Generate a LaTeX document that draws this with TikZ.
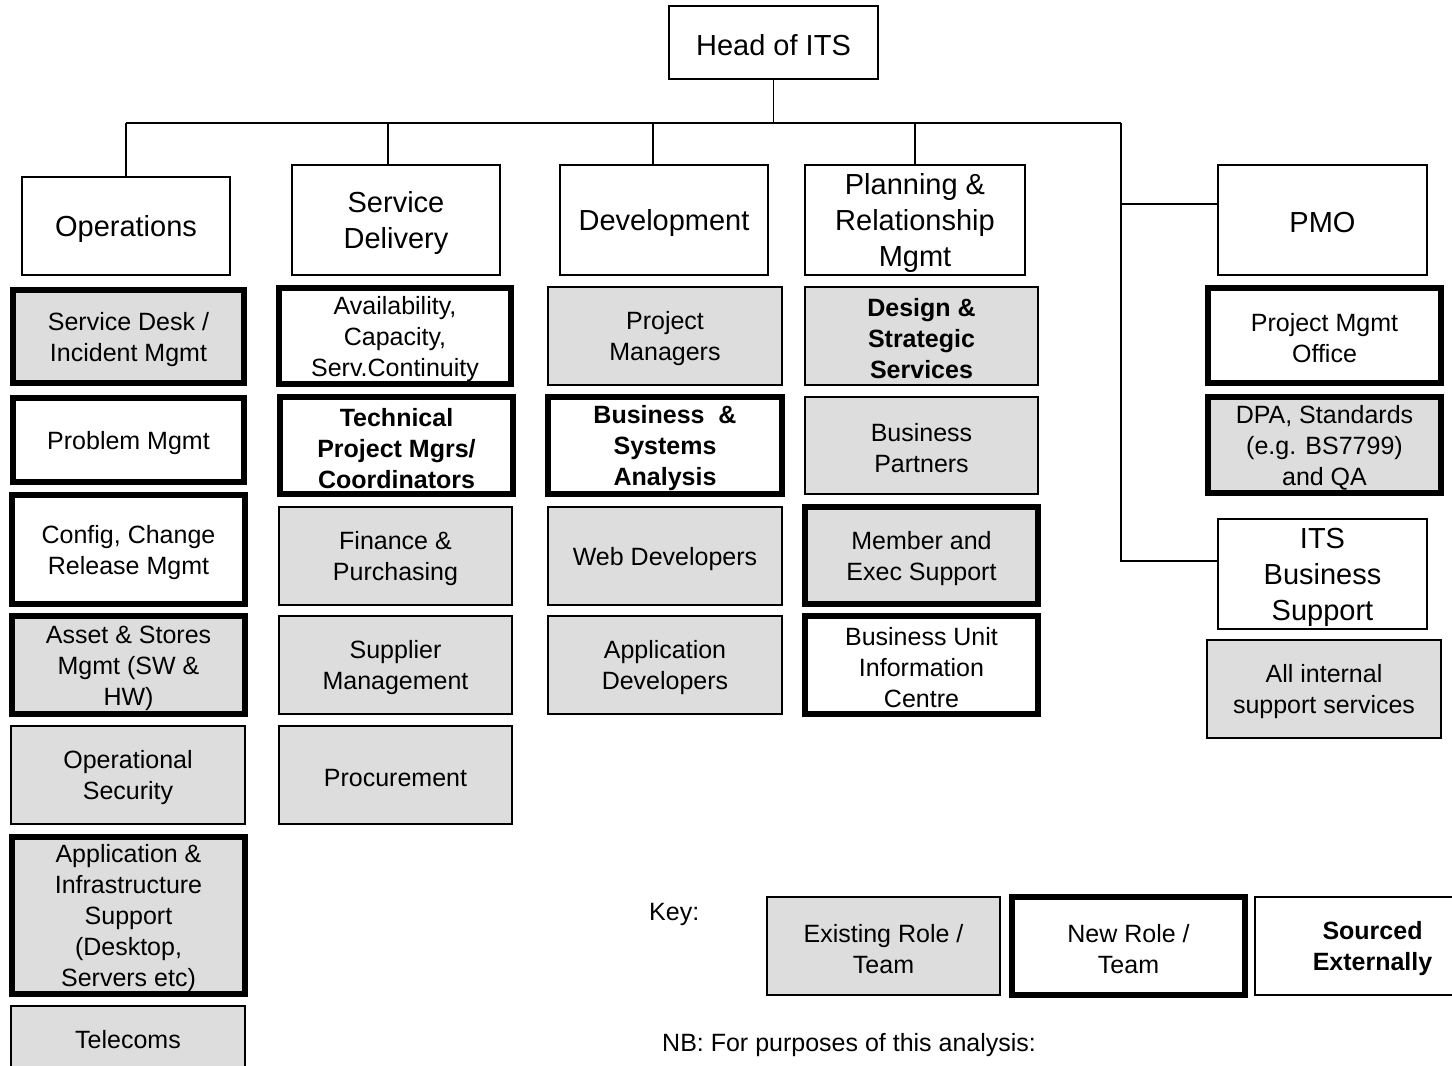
\documentclass[tikz,border=0pt]{standalone}
\usepackage{fontspec}
\setmainfont{Liberation Sans}
\definecolor{boxgrey}{RGB}{221,221,221}
\tikzset{
  orgbox/.style={draw, line width=1.3pt, inner sep=0pt, fill=white},
  boxtxt/.style={inner sep=0pt, align=center, font=\fontsize{25}{31}\selectfont},
  hdr/.style={font=\fontsize{29}{36}\selectfont},
  boldtxt/.style={font=\fontsize{25}{31}\selectfont\bfseries},
  existing/.style={fill=boxgrey},
  conn/.style={line width=1.3pt},
  plaintxt/.style={inner sep=0pt, font=\fontsize{25}{31}\selectfont}
}
% #1 name, #2 fill style, #3 text style, #4..#7 outer box edges, #8 text
\newcommand\thinbx[8]{\node[orgbox,#2,minimum width={#6-#4},minimum height={#7-#5}] (#1) at ({(#4+#6)/2},{(#5+#7)/2}) {};
  \node[boxtxt,#3] (#1-t) at ([yshift=-3pt]#1.center) {#8};}
\newcommand\thickbx[8]{\node[orgbox,line width=6pt,#2,minimum width={#6-#4-6},minimum height={#7-#5-6}] (#1) at ({(#4+#6)/2},{(#5+#7)/2}) {};
  \node[boxtxt,#3] (#1-t) at ([yshift=-3pt]#1.center) {#8};}
\begin{document}
\begin{tikzpicture}[x=1pt,y=-1pt]
\useasboundingbox[fill=white] (0,0) rectangle (1452,1066);
% top
\thinbx{head}{}{hdr}{669}{6}{878}{79}{Head of ITS}
% headers
\thinbx{ops}{}{hdr}{22}{177}{230}{275}{Operations}
\thinbx{sdel}{}{hdr}{292}{165}{500}{275}{Service\\Delivery}
\thinbx{dev}{}{hdr}{560}{165}{768}{275}{Development}
\thinbx{plan}{}{hdr}{805}{165}{1025}{275}{Planning \&\\Relationship\\Mgmt}
\thinbx{pmo}{}{hdr}{1218}{165}{1427}{275}{PMO}
\thinbx{itsbs}{}{hdr}{1218}{519}{1427}{629}{ITS\\Business\\Support}
% connectors
\coordinate (busL) at (126,123);
\coordinate (busR) at (1121,123);
\draw[conn] (head.south) -- (head.south |- busL);
\draw[conn] (busL) -- (busR);
\draw[conn] (busL) -- (ops.north);
\draw[conn] ([xshift=-8pt]sdel.north) -- ([xshift=-8pt]sdel.north |- busL);
\draw[conn] ([xshift=-11pt]dev.north) -- ([xshift=-11pt]dev.north |- busL);
\draw[conn] (plan.north) -- (plan.north |- busL);
\draw[conn] (busR) |- ([yshift=13pt]itsbs.west);
\draw[conn] ([yshift=16pt]pmo.west) -- ([yshift=16pt]pmo.west -| busR);
% Operations column
\thickbx{sdesk}{existing}{}{10}{287}{247}{386}{Service Desk /\\Incident Mgmt}
\thickbx{prob}{}{}{10}{395}{247}{485}{Problem Mgmt}
\thickbx{conf}{}{}{9}{492}{248}{607}{Config, Change\\Release Mgmt}
\thickbx{asset}{existing}{}{9}{613}{248}{717}{Asset \& Stores\\Mgmt (SW \&\\HW)}
\thinbx{opsec}{existing}{}{11}{726}{245}{824}{Operational\\Security}
\thickbx{appinf}{existing}{}{9}{834}{248}{997}{Application \&\\Infrastructure\\Support\\(Desktop,\\Servers etc)}
\thinbx{tele}{existing}{}{11}{1006}{245}{1068}{Telecoms}
% Service Delivery column
\thickbx{avail}{}{}{276}{285}{514}{387}{Availability,\\Capacity,\\Serv.Continuity}
\thickbx{tpm}{}{boldtxt}{277}{394}{516}{497}{Technical\\Project Mgrs/\\Coordinators}
\thinbx{fin}{existing}{}{279}{507}{512}{605}{Finance \&\\Purchasing}
\thinbx{supp}{existing}{}{279}{616}{512}{714}{Supplier\\Management}
\thinbx{proc}{existing}{}{279}{726}{512}{824}{Procurement}
% Development column
\thinbx{pm}{existing}{}{548}{287}{782}{385}{Project\\Managers}
\thickbx{bsa}{}{boldtxt}{545}{394}{785}{497}{Business\ \ \&\\Systems\\Analysis}
\thinbx{web}{existing}{}{548}{507}{782}{605}{Web Developers}
\thinbx{appdev}{existing}{}{548}{616}{782}{714}{Application\\Developers}
% Planning column
\thinbx{design}{existing}{boldtxt}{805}{287}{1038}{385}{Design \&\\Strategic\\Services}
\thinbx{bp}{existing}{}{805}{397}{1038}{494}{Business\\Partners}
\thickbx{member}{existing}{}{802}{504}{1041}{607}{Member and\\Exec Support}
\thickbx{buic}{}{}{802}{613}{1041}{717}{Business Unit\\Information\\Centre}
% PMO column
\thickbx{pmoff}{}{}{1205}{285}{1444}{386}{Project Mgmt\\Office}
\thickbx{dpa}{existing}{}{1205}{394}{1444}{496}{DPA, Standards\\(e.g. BS7799)\\and QA}
\thinbx{allint}{existing}{}{1207}{640}{1441}{738}{All internal\\support services}
% Key
\node[plaintxt, anchor=west] (keylbl) at (649,914) {Key:};
\thinbx{kexist}{existing}{}{767}{897}{1000}{995}{Existing Role /\\Team}
\thickbx{knew}{}{}{1009}{894}{1248}{998}{New Role /\\Team}
\thinbx{kext}{}{boldtxt}{1255}{897}{1490}{995}{Sourced\\Externally}
% note
\node[plaintxt, anchor=west] (nb) at (662,1045) {NB: For purposes of this analysis:};
\end{tikzpicture}
\end{document}
